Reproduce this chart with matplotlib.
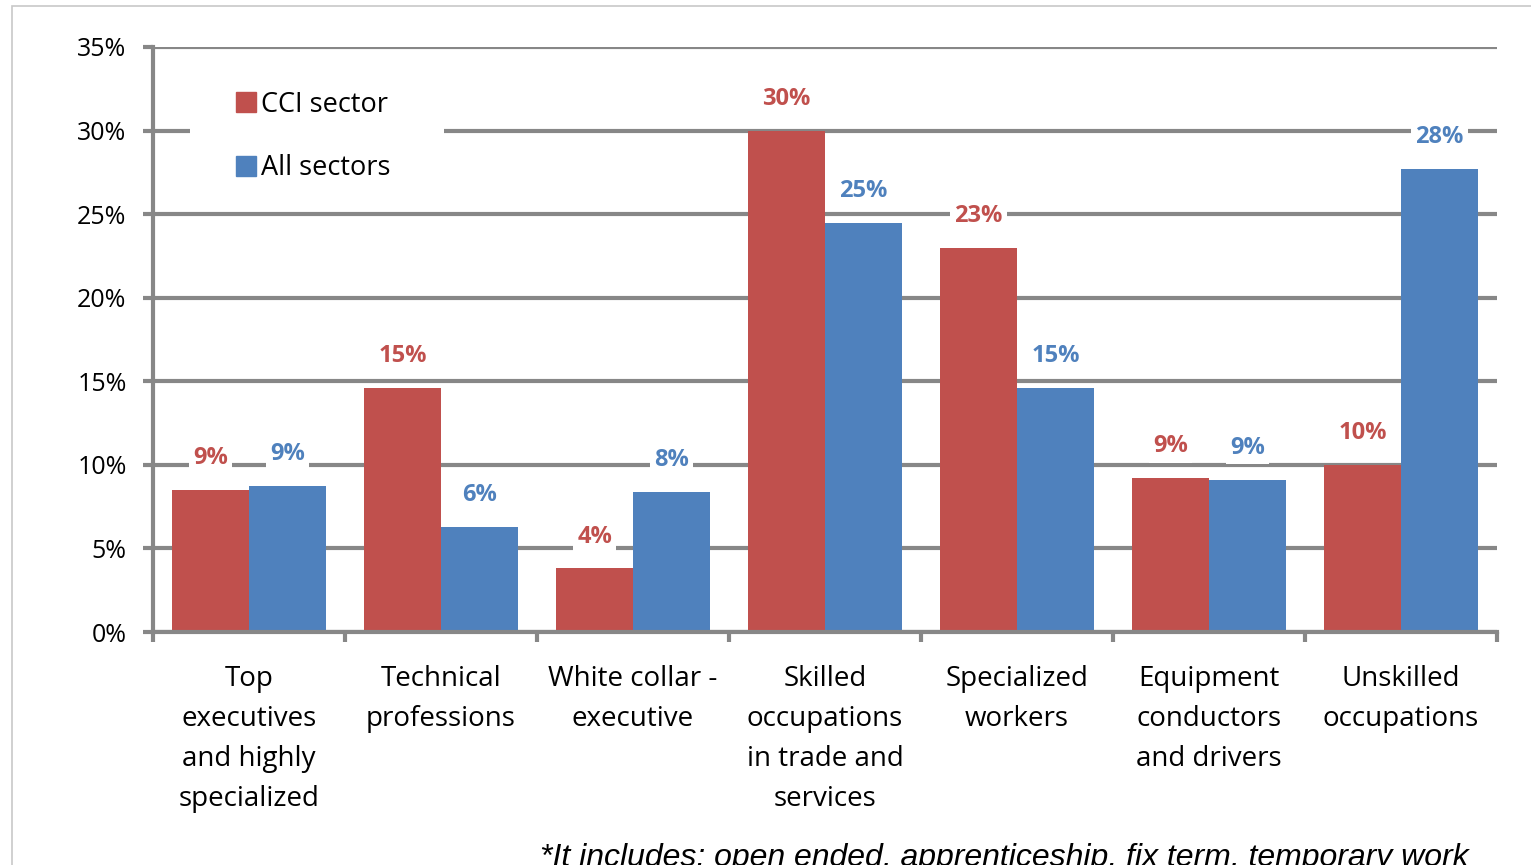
import matplotlib
matplotlib.use("Agg")
import matplotlib.pyplot as plt
import matplotlib.transforms as mtransforms
import numpy as np
from matplotlib.patches import Rectangle
from matplotlib.lines import Line2D

plt.rcParams['font.family'] = ['Open Sans', 'DejaVu Sans']

categories = ["Top\nexecutives\nand highly\nspecialized",
              "Technical\nprofessions",
              "White collar -\nexecutive",
              "Skilled\noccupations\nin trade and\nservices",
              "Specialized\nworkers",
              "Equipment\nconductors\nand drivers",
              "Unskilled\noccupations"]
cci = [8.5, 14.6, 3.8, 30.0, 23.0, 9.2, 10.0]
all_sectors = [8.75, 6.3, 8.4, 24.5, 14.6, 9.1, 27.7]
cci_labels = ["9%", "15%", "4%", "30%", "23%", "9%", "10%"]
all_labels = ["9%", "6%", "8%", "25%", "15%", "9%", "28%"]
yticks = [0, 5, 10, 15, 20, 25, 30, 35]

red = "#C0504D"
blue = "#4F81BD"
grey = "#878787"

fig = plt.figure(figsize=(15.31, 8.65), dpi=100)
ax = fig.add_axes([153/1531, 1-632/865, (1497-153)/1531, (632-47)/865])

# light frame around the picture
fig.patches.append(Rectangle((12/1531, -0.1), 1.2, 1.1 - 6/865, transform=fig.transFigure,
                             fill=False, edgecolor="#c8c8c8", linewidth=1.2))

x = np.arange(len(categories))
w = 0.4
ax.bar(x - w/2, cci, w, color=red, zorder=2)
ax.bar(x + w/2, all_sectors, w, color=blue, zorder=2)

for xi, v, lab in zip(x - w/2, cci, cci_labels):
    ax.annotate(lab, (xi, v), xytext=(0, 23), textcoords="offset points",
                ha="center", va="center", color=red, fontsize=17, fontweight="bold",
                bbox=dict(facecolor="white", edgecolor="none", pad=3), zorder=4)
for xi, v, lab in zip(x + w/2, all_sectors, all_labels):
    ax.annotate(lab, (xi, v), xytext=(0, 23), textcoords="offset points",
                ha="center", va="center", color=blue, fontsize=17, fontweight="bold",
                bbox=dict(facecolor="white", edgecolor="none", pad=3), zorder=4)

ax.set_xlim(-0.5, 6.5)
ax.set_ylim(0, 35)
ax.set_yticks(yticks)
ax.set_yticklabels([f"{t}%" for t in yticks], fontsize=18)
ax.yaxis.grid(True, color=grey, linewidth=3, zorder=0)
ax.set_axisbelow(True)

ax.set_xticks(x)
ax.set_xticklabels(categories, fontsize=20)
for t in ax.get_xticklabels():
    t.set_linespacing(1.57)
ax.set_xticks(np.arange(-0.5, 7, 1), minor=True)
ax.tick_params(axis="x", which="major", length=0, pad=24)
ax.tick_params(axis="x", which="minor", length=7, width=3, color=grey, direction="out")
ax.tick_params(axis="y", length=7, width=3, color=grey, pad=12)

for s in ["top", "right"]:
    ax.spines[s].set_visible(False)
for s in ["left", "bottom"]:
    ax.spines[s].set_color(grey)
    ax.spines[s].set_linewidth(3)

# white area behind the legend, hiding part of the 30% gridline
trans = mtransforms.blended_transform_factory(ax.transAxes, ax.transData)
ax.add_patch(Rectangle((37/1344, 27.5), (444-190)/1344, 5, transform=trans,
                       facecolor="white", edgecolor="none", zorder=1))

handles = [Line2D([], [], marker="s", linestyle="none", markersize=14, color=red),
           Line2D([], [], marker="s", linestyle="none", markersize=14, color=blue)]
leg = ax.legend(handles, ["CCI sector", "All sectors"], loc="upper left",
                bbox_to_anchor=(0.061, 0.925), fontsize=19.5, frameon=False,
                handlelength=0.8, handletextpad=0.15, labelspacing=1.3, borderpad=0,
                borderaxespad=0)
leg.set_zorder(5)

fig.text(540/1531, 1-843/865, "*It includes: open ended, apprenticeship, fix term, temporary work",
         fontsize=23, style="italic", family="Liberation Sans", va="top", ha="left")

fig.savefig("out.png", dpi=100)
